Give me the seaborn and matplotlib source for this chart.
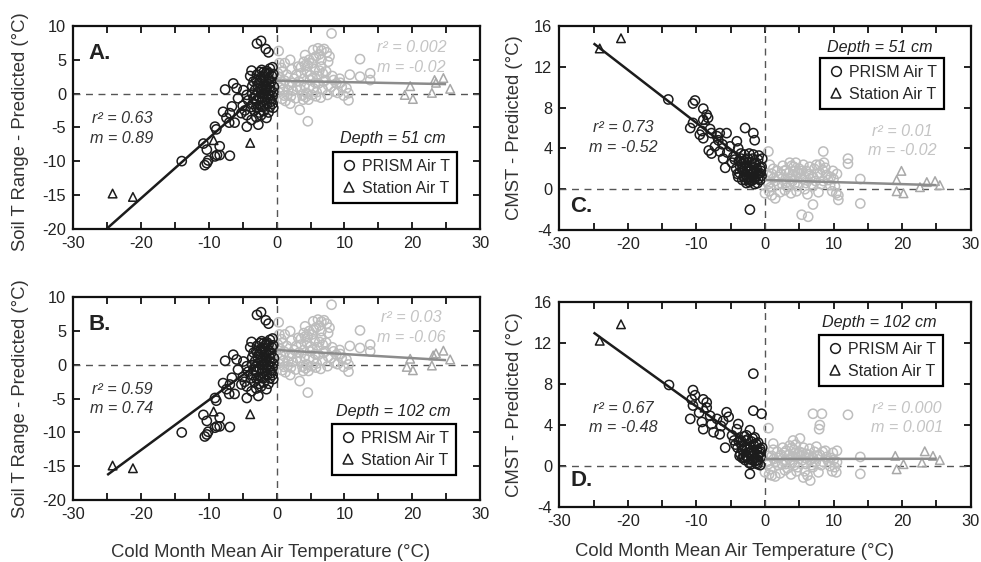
import matplotlib
matplotlib.use("Agg")
import matplotlib.pyplot as plt
from matplotlib.lines import Line2D
from matplotlib.ticker import MultipleLocator
import seaborn as sns
import numpy as np

sns.set_style("ticks")
plt.rcParams['font.family'] = ['Liberation Sans', 'DejaVu Sans']
plt.rcParams['axes.unicode_minus'] = False

# ---------------- DATA ----------------
# Soil T range residuals (panel A, 51 cm)
A_prism_cold = [(-2.9,7.4),(-2.3,7.8),(-1.6,6.6),(-1.2,6.1),(-3.7,3.4),(-2.2,3.5),(-1.0,3.7),(-0.6,3.9),
    (-7.6,0.6),(-6.4,1.5),(-5.9,0.8),(-4.9,0.5),(-5.7,-0.7),(-4.4,-0.2),(-6.6,-1.9),(-6.9,-2.9),
    (-7.9,-2.7),(-7.4,-3.6),(-5.2,-2.9),(-4.4,-3.2),(-4.4,-4.9),(-2.7,-4.6),(-1.5,-3.6),(-0.5,-2.1),
    (-6.2,-4.3),(-7.0,-4.3),(-3.7,-3.9),(-9.1,-4.9),(-8.9,-5.3),(-10.8,-7.4),(-10.3,-8.3),(-10.3,-10.3),
    (-10.6,-10.6),(-9.1,-9.3),(-8.4,-7.8),(-8.4,-9.1),(-6.9,-9.2),(-8.8,-9.1),(-10.1,-9.9),(-14.0,-10.0),
    (-3.5,-1.5),(-3.0,-1.0),(-2.5,-0.5),(-2.0,0.0),(-1.5,0.5),(-1.0,1.0),(-3.2,0.5),(-2.8,1.2),(-2.4,2.0),
    (-2.0,2.5),(-1.6,3.0),(-1.2,2.2),(-0.8,1.8),(-3.8,-2.0),(-3.3,-2.5),(-2.6,-2.8),(-2.0,-2.0),(-1.4,-1.5),
    (-0.9,-0.8),(-0.5,0.2),(-4.2,-1.0),(-3.6,0.0),(-2.2,-1.2),(-1.8,1.5),(-1.1,-0.3),(-2.9,2.8),(-3.4,1.8),
    (-2.5,3.2),(-1.4,3.3),(-0.7,2.6),(-0.4,1.0),(-5.0,-1.8),(-4.7,-2.5),(-3.0,-3.5),(-2.3,-3.2),(-1.2,-2.8),
    (-0.6,-1.5),(-3.0,2.0),(-2.0,1.0),(-1.5,-0.5),
    (-3.9,2.6),(-3.1,-0.3),(-2.7,0.3),(-2.1,-0.6),(-1.7,-1.0),(-1.3,0.0),(-0.9,0.4),(-0.6,-0.4),(-2.4,-1.8),
    (-1.9,-2.6),(-1.0,-2.0),(-3.4,-0.7),(-2.6,1.6),(-2.2,0.6),(-1.6,2.0),(-1.1,1.4),(-0.5,2.9),(-1.9,3.2),
    (-2.7,-2.0),(-3.6,1.1),(-0.8,-1.2),(-1.5,1.1),(-2.3,2.4),(-1.2,3.0),(-3.0,-2.0)]
A_station_cold = [(-24.2,-14.8),(-21.2,-15.3),(-9.3,-6.9),(-3.9,-7.3)]
A_prism_warm = [(8.1,8.9),(0.3,6.3),(5.4,6.45),(6.1,6.7),(6.6,6.4),(7.4,6.1),(7.0,6.6),(5.8,5.5),(4.2,5.7),
    (4.0,4.7),(5.2,4.5),(7.6,4.7),(6.6,4.0),(6.6,5.0),(12.3,5.1),(2.0,5.0),(1.2,4.5),(0.4,4.5),(0.9,3.3),
    (10.8,2.8),(13.8,3.0),(13.8,2.0),(12.3,2.5),(9.3,2.2),(10.3,0.8),(10.6,0.05),(10.6,-1.0),(4.6,-4.1),
    (3.4,-2.4),(2.0,-1.5),(3.9,-0.9),(5.8,-0.4),(7.5,-0.2),(4.8,5.0),(5.6,3.6),(4.5,3.2),(3.6,3.0),(7.3,3.3),
    (8.2,2.6),(8.8,1.5),(9.6,1.0),(9.9,-0.3),(8.5,0.3),(1.5,2.8),(2.6,2.2),(3.0,1.0),(0.6,1.5),(0.3,0.2),
    (0.8,-0.8),(1.6,-0.2),(2.4,0.4),(3.3,1.8),(4.1,1.2),(4.9,2.0),(5.4,0.8),(6.2,1.5),(6.8,0.6),(7.2,2.0),
    (4.4,0.1),(3.8,-0.3),(2.8,-0.7),(6.0,2.6),(5.0,2.7),(4.0,2.2),(6.5,-0.6),(1.0,0.6),(1.9,1.3),(0.5,2.4),
    (2.2,3.6),(8.0,1.0),(9.0,0.1),(6.8,3.0),(5.7,1.6),(3.2,4.0),(4.6,4.1),(7.8,5.5),(0.2,3.0),(1.3,-1.1),
    (4.7,-0.9),(5.2,-0.2),
    (0.5,0.9),(1.1,-0.3),(1.7,0.5),(2.3,1.6),(2.9,2.8),(3.5,0.6),(4.3,-0.5),(4.8,1.0),(5.3,2.3),(5.9,0.2),
    (6.3,3.4),(6.9,1.8),(7.6,1.2),(8.4,2.0),(9.4,1.6),(2.1,-0.4),(3.6,3.9),(4.2,4.2),(5.5,5.2),(6.3,5.8),
    (1.2,1.9),(0.7,3.8)]
A_station_warm = [(18.9,-0.2),(20.1,-0.8),(19.7,1.1),(22.9,0.1),(23.3,2.0),(24.6,2.3),(25.6,0.7),(23.5,1.6)]

# panel B (102 cm)
B_prism_cold = list(A_prism_cold)
B_station_cold = [(-24.2,-14.9),(-21.2,-15.3),(-9.3,-6.9),(-3.9,-7.3)]
B_prism_warm = list(A_prism_warm)
B_station_warm = [(19.2,-0.3),(20.1,-0.8),(19.7,0.9),(22.9,-0.1),(23.1,1.4),(24.6,2.1),(25.6,0.8),(23.5,1.7)]

# CMST residuals (panel C, 51 cm)
C_prism_cold = [(-14.1,8.8),(-10.2,8.7),(-10.5,8.4),(-9.0,7.9),(-8.5,7.3),(-8.3,7.0),(-9.0,6.8),(-10.5,6.5),
    (-10.9,6.0),(-9.2,5.7),(-9.0,5.0),(-9.5,5.35),(-7.8,5.5),(-6.6,5.5),(-5.6,5.5),(-8.0,5.9),(-7.3,4.2),
    (-6.6,3.7),(-7.8,3.5),(-6.1,3.0),(-5.8,2.1),(-4.1,4.7),(-3.9,4.0),(-5.1,4.2),(-2.9,6.0),(-1.7,5.5),
    (-1.5,4.8),(-1.7,3.4),(-3.9,1.2),(-2.2,-2.0),(-0.5,2.2),(-6.8,4.8),(-7.0,5.2),(-5.5,3.6),(-4.6,3.2),
    (-4.8,2.6),(-8.2,3.8),(-6.2,4.4),(-3.5,3.0),(-3.0,2.6),(-2.6,2.2),(-2.2,1.8),(-1.8,1.5),(-1.4,1.2),
    (-1.0,1.0),(-3.2,1.8),(-2.8,1.4),(-2.4,1.0),(-2.0,0.8),(-1.6,2.5),(-1.2,2.0),(-0.8,1.6),(-3.6,2.2),
    (-3.0,3.4),(-2.5,3.0),(-2.0,2.6),(-1.0,2.9),(-0.7,0.9),(-2.7,0.6),(-3.3,0.9),(-4.2,2.0),(-4.0,1.5),
    (-1.5,0.5),(-2.3,3.5),(-0.5,1.3),(-0.9,3.3),(-3.8,2.8),(-2.1,1.2),(-1.3,1.7),(-2.9,2.0),(-0.4,3.0),
    (-3.7,1.6),(-3.4,2.5),(-3.1,1.2),(-2.8,2.9),(-2.5,1.7),(-2.2,2.3),(-1.9,0.9),(-1.6,1.8),(-1.3,2.6),
    (-1.0,1.5),(-0.7,2.1),(-2.6,1.2),(-2.3,0.7),(-3.5,3.5),(-1.8,3.0),(-1.1,0.6),(-2.0,1.5),(-2.9,0.9),
    (-3.3,2.0),(-1.5,1.0),(-0.6,1.8),(-4.4,2.9)]
C_station_cold = [(-24.1,13.8),(-21.0,14.8),(-8.7,6.8),(-3.9,3.0)]
C_prism_warm = [(8.5,3.7),(12.1,3.0),(12.1,2.5),(13.9,1.0),(13.9,-1.4),(5.35,-2.5),(6.3,-2.7),(10.7,-1.05),
    (10.7,-0.6),(7.0,-1.5),(1.5,-0.9),(0.0,-0.4),(0.7,2.4),(0.5,3.7),(1.0,1.5),(1.5,0.8),(2.0,1.2),(2.5,0.5),
    (3.0,1.0),(3.5,1.6),(4.0,0.8),(4.5,1.3),(5.0,2.0),(5.5,1.0),(6.0,1.8),(6.5,2.2),(7.0,1.2),(7.5,2.4),
    (8.0,1.6),(8.5,0.8),(9.0,1.4),(9.5,0.4),(10.0,1.0),(10.5,1.5),(0.3,0.8),(0.8,0.2),(1.8,1.8),(2.8,1.8),
    (3.3,0.2),(4.2,2.2),(4.8,0.3),(5.8,0.0),(6.8,0.5),(7.8,-0.3),(8.8,2.1),(9.8,-0.2),(2.2,-0.3),(3.8,-0.4),
    (5.2,1.5),(6.2,-0.5),(7.2,2.0),(8.2,0.5),(4.4,1.8),(1.2,2.0),(0.4,1.4),(2.6,2.3),(3.6,2.6),(5.6,2.4),
    (8.6,2.6),(9.2,0.9),(10.2,0.3),(6.6,1.0),(4.6,-0.2),(0.6,-0.2),(3.0,0.6),(7.4,0.8),
    (0.5,0.5),(1.3,1.1),(1.9,0.5),(2.4,1.5),(3.1,1.9),(3.7,1.0),(4.3,0.5),(4.9,1.6),(5.4,1.8),(5.9,1.2),
    (6.4,1.5),(7.0,0.3),(7.6,1.5),(8.4,1.9),(9.6,1.2),(1.0,-0.6),(2.9,-0.1),(4.0,1.4),(6.0,0.6),(4.5,2.6),
    (3.9,2.3),(8.0,2.4),(9.9,1.8),(10.4,-0.4)]
C_station_warm = [(19.9,1.8),(19.2,0.9),(19.2,-0.2),(20.2,-0.4),(22.6,0.2),(23.6,0.7),(24.8,0.8),(25.5,0.4)]

# panel D (102 cm)
D_prism_cold = [(-14.0,7.9),(-10.5,7.4),(-10.2,6.9),(-10.7,6.5),(-9.0,6.5),(-8.5,6.2),(-10.5,5.9),(-8.5,5.7),
    (-10.9,4.6),(-9.2,4.3),(-9.0,3.6),(-7.8,4.1),(-7.5,3.3),(-6.6,3.1),(-5.6,5.25),(-5.3,4.8),(-6.1,4.4),
    (-3.9,4.1),(-4.1,3.6),(-5.8,1.8),(-1.7,9.0),(-1.7,5.4),(-0.5,5.1),(-2.2,-0.75),(-1.2,0.55),(-0.7,0.1),
    (-2.2,3.5),(-7.0,4.6),(-6.4,3.9),(-4.8,3.0),(-4.5,2.5),(-8.0,4.9),(-9.6,5.2),(-3.5,2.5),(-3.0,2.0),
    (-2.6,1.6),(-2.2,1.3),(-1.8,1.0),(-1.4,0.8),(-1.0,0.6),(-3.2,1.5),(-2.8,1.0),(-2.4,0.7),(-2.0,2.4),
    (-1.6,2.0),(-1.2,1.6),(-0.8,1.3),(-3.6,1.2),(-3.0,2.9),(-2.5,2.6),(-1.0,2.3),(-0.6,0.9),(-3.3,0.8),
    (-4.0,1.8),(-1.5,2.8),(-2.7,3.0),(-0.4,1.8),(-2.0,0.2),(-3.8,2.4),(-1.3,0.3),
    (-3.7,1.0),(-3.4,2.0),(-3.1,0.9),(-2.8,2.5),(-2.5,1.3),(-2.2,1.9),(-1.9,0.6),(-1.6,1.4),(-1.3,2.2),
    (-1.0,1.1),(-0.7,1.7),(-2.6,0.9),(-2.3,0.3),(-1.8,2.7),(-1.1,0.2),(-2.0,1.2),(-2.9,0.6),(-3.3,1.6),
    (-1.5,0.5),(-0.6,1.4),(-4.3,2.1)]
D_station_cold = [(-24.1,12.2),(-21.0,13.8),(-8.8,5.7),(-3.9,2.8)]
D_prism_warm = [(7.0,5.1),(8.3,5.1),(12.1,5.0),(8.0,4.0),(7.9,3.6),(4.1,2.5),(5.1,2.7),(13.9,0.9),(13.9,-0.75),
    (5.6,-1.1),(6.6,-1.4),(0.0,-0.6),(1.2,2.2),(0.5,3.7),(10.5,1.5),(10.5,0.4),(1.0,1.0),(1.5,0.4),(2.0,0.8),
    (2.5,0.2),(3.0,0.6),(3.5,1.1),(4.0,0.4),(4.5,0.9),(5.0,1.4),(5.5,0.6),(6.0,1.2),(6.5,1.7),(7.0,0.8),
    (7.5,1.9),(8.0,1.1),(8.5,0.4),(9.0,0.9),(9.5,0.0),(10.0,0.6),(0.3,0.4),(0.8,-0.3),(1.8,1.4),(2.8,1.3),
    (3.3,-0.2),(4.2,1.6),(4.8,-0.1),(5.8,-0.5),(6.8,0.1),(7.8,-0.6),(8.8,1.5),(9.8,-0.5),(2.2,-0.7),(3.8,-0.8),
    (5.2,1.0),(6.2,-0.9),(7.2,1.4),(8.2,0.1),(4.4,1.3),(1.2,1.6),(0.4,1.0),(2.6,1.8),(3.6,2.0),(5.6,1.8),
    (9.2,0.5),(10.2,-0.1),(6.6,0.6),(4.6,-0.5),(0.6,-0.8),(3.0,0.2),(7.4,0.4),(1.5,-1.0),
    (0.5,0.2),(1.3,0.7),(1.9,0.1),(2.4,1.1),(3.1,1.5),(3.7,0.6),(4.3,0.1),(4.9,1.2),(5.4,1.3),(5.9,0.8),
    (6.4,1.1),(7.0,-0.1),(7.6,1.0),(8.4,1.4),(9.6,0.8),(1.0,-0.9),(2.9,-0.4),(4.0,1.0),(6.0,0.2),(4.5,2.1),
    (3.9,1.8),(9.9,1.3),(10.4,-0.6)]
D_station_warm = [(19.0,1.0),(19.2,-0.3),(20.2,0.2),(22.9,0.35),(23.3,1.45),(24.5,1.0),(25.5,0.6)]

# regression fits: (slope, intercept, x_start, x_end)
fits = {
    "A": [(0.89, 2.3, -25, 0), (-0.02, 1.9, 0, 25)],
    "B": [(0.74, 2.2, -25, 0), (-0.06, 2.2, 0, 25)],
    "C": [(-0.52, 1.3, -25, 0), (-0.02, 0.9, 0, 25)],
    "D": [(-0.48, 1.0, -25, 0), (0.001, 0.7, 0, 25)],
}
stats_cold = {"A": ("0.63", "0.89"), "B": ("0.59", "0.74"), "C": ("0.73", "-0.52"), "D": ("0.67", "-0.48")}
stats_warm = {"A": ("0.002", "-0.02"), "B": ("0.03", "-0.06"), "C": ("0.01", "-0.02"), "D": ("0.000", "0.001")}
depths = {"A": "51", "B": "102", "C": "51", "D": "102"}
legend_labels = ["PRISM Air T", "Station Air T"]
xlabel = "Cold Month Mean Air Temperature (°C)"
ylabels = {"A": "Soil T Range - Predicted (°C)", "B": "Soil T Range - Predicted (°C)",
           "C": "CMST - Predicted (°C)", "D": "CMST - Predicted (°C)"}

# ---------------- STYLE ----------------
DARK = "#1c1c1c"
LIGHT = "#bdbdbd"
FITGREY = "#8c8c8c"
TXT = "#333333"
FS_TICK = 11.8
FS_ANN = 11.6
FS_LEG = 11.5
FS_LAB = 13.3

fig = plt.figure(figsize=(9.81, 5.62), dpi=100)
positions = {
    "A": [0.0747, 0.5931, 0.4146, 0.3606],
    "B": [0.0747, 0.1103, 0.4146, 0.3607],
    "C": [0.5701, 0.5907, 0.4194, 0.3630],
    "D": [0.5701, 0.0973, 0.4194, 0.3659],
}
ylims = {"A": (-20, 10), "B": (-20, 10), "C": (-4, 16), "D": (-4, 16)}
ysteps = {"A": 5, "B": 5, "C": 4, "D": 4}
ylabel_pos = {"A": (-0.131, 0.48), "B": (-0.131, 0.5), "C": (-0.108, 0.5), "D": (-0.108, 0.5)}
xlabel_pos = {"B": (0.484, -0.261), "D": (0.427, -0.217)}

panels = {
    "A": (A_prism_cold, A_station_cold, A_prism_warm, A_station_warm),
    "B": (B_prism_cold, B_station_cold, B_prism_warm, B_station_warm),
    "C": (C_prism_cold, C_station_cold, C_prism_warm, C_station_warm),
    "D": (D_prism_cold, D_station_cold, D_prism_warm, D_station_warm),
}

# text placement (data coords)
layout = {
    "A": dict(letter=(-27.8, 6.0), cold=(-22.8, -3.65, -6.6), warm=(19.9, 6.8, 3.85), depth=(17.2, -6.6),
              leg=(0.943, 0.38)),
    "B": dict(letter=(-27.8, 6.0), cold=(-22.8, -3.6, -6.4), warm=(19.9, 7.05, 4.1), depth=(17.2, -6.9),
              leg=(0.942, 0.377)),
    "C": dict(letter=(-28.4, -1.7), cold=(-20.7, 6.05, 4.1), warm=(20.0, 5.7, 3.75), depth=(16.8, 13.9),
              leg=(0.935, 0.845)),
    "D": dict(letter=(-28.4, -1.4), cold=(-20.7, 5.65, 3.8), warm=(20.7, 5.65, 3.8), depth=(16.7, 14.0),
              leg=(0.933, 0.84)),
}

def scatter(ax, pts, marker, color, size):
    xs = [p[0] for p in pts]
    ys = [p[1] for p in pts]
    sns.scatterplot(x=xs, y=ys, ax=ax, marker=marker, s=size, facecolor="none",
                    edgecolor=color, linewidth=1.1, zorder=3)

for key in ["A", "B", "C", "D"]:
    ax = fig.add_axes(positions[key])
    pc, sc, pw, sw = panels[key]
    ax.set_xlim(-30, 30)
    ax.set_ylim(*ylims[key])
    ax.axhline(0, color="#555555", lw=1.0, ls=(0, (5, 4)), zorder=1)
    ax.axvline(0, color="#555555", lw=1.0, ls=(0, (5, 4)), zorder=1)

    scatter(ax, pw, "o", LIGHT, 44)
    scatter(ax, sw, "^", "#a8a8a8", 38)
    scatter(ax, pc, "o", DARK, 44)
    scatter(ax, sc, "^", DARK, 38)

    (m1, b1, x0, x1), (m2, b2, x2, x3) = fits[key]
    xa = np.array([x0, x1], dtype=float)
    xb = np.array([x2, x3], dtype=float)
    ax.plot(xa, m1 * xa + b1, color=DARK, lw=1.8, zorder=4, solid_capstyle="butt")
    ax.plot(xb, m2 * xb + b2, color=FITGREY, lw=1.8, zorder=4, solid_capstyle="butt")

    lay = layout[key]
    ax.text(lay["letter"][0], lay["letter"][1], key + ".", fontsize=16, fontweight="bold",
            color="#222222", va="center", ha="left", zorder=5)
    r2, m = stats_cold[key]
    ax.text(lay["cold"][0], lay["cold"][1], f"r² = {r2}", fontsize=FS_ANN, style="italic",
            color=TXT, ha="center", va="center", zorder=5)
    ax.text(lay["cold"][0], lay["cold"][2], f"m = {m}", fontsize=FS_ANN, style="italic",
            color=TXT, ha="center", va="center", zorder=5)
    r2, m = stats_warm[key]
    ax.text(lay["warm"][0], lay["warm"][1], f"r² = {r2}", fontsize=FS_ANN, style="italic",
            color="#c4c4c4", ha="center", va="center", zorder=5)
    ax.text(lay["warm"][0], lay["warm"][2], f"m = {m}", fontsize=FS_ANN, style="italic",
            color="#c4c4c4", ha="center", va="center", zorder=5)
    ax.text(lay["depth"][0], lay["depth"][1], f"Depth = {depths[key]} cm", fontsize=FS_ANN,
            style="italic", color="#222222", ha="center", va="center", zorder=5)

    handles = [Line2D([], [], ls="none", marker="o", mfc="none", mec=DARK, mew=1.1, ms=7),
               Line2D([], [], ls="none", marker="^", mfc="none", mec=DARK, mew=1.1, ms=6.5)]
    leg = ax.legend(handles, legend_labels, loc="upper right", bbox_to_anchor=lay["leg"],
                    borderaxespad=0, fancybox=False, framealpha=1, edgecolor="black",
                    fontsize=FS_LEG, handletextpad=0.25, labelspacing=0.45, borderpad=0.45,
                    handlelength=1.1)
    leg.get_frame().set_linewidth(1.6)
    leg.set_zorder(6)

    ax.xaxis.set_major_locator(MultipleLocator(10))
    ax.xaxis.set_minor_locator(MultipleLocator(5))
    ax.yaxis.set_major_locator(MultipleLocator(ysteps[key]))
    ax.tick_params(which="both", direction="in", top=True, right=True, length=5, width=1.4,
                   labelsize=FS_TICK, colors="#222222", pad=5)
    for sp in ax.spines.values():
        sp.set_linewidth(1.6)
        sp.set_color("#111111")
    ax.set_ylabel(ylabels[key], fontsize=FS_LAB, color="#333333")
    ax.yaxis.set_label_coords(*ylabel_pos[key])
    ax.yaxis.label.set_va("center")
    if key in xlabel_pos:
        ax.set_xlabel(xlabel, fontsize=FS_LAB, color="#333333")
        ax.xaxis.set_label_coords(*xlabel_pos[key])
        ax.xaxis.label.set_va("center")
    else:
        ax.set_xlabel("")

fig.savefig("out.png", dpi=100)
